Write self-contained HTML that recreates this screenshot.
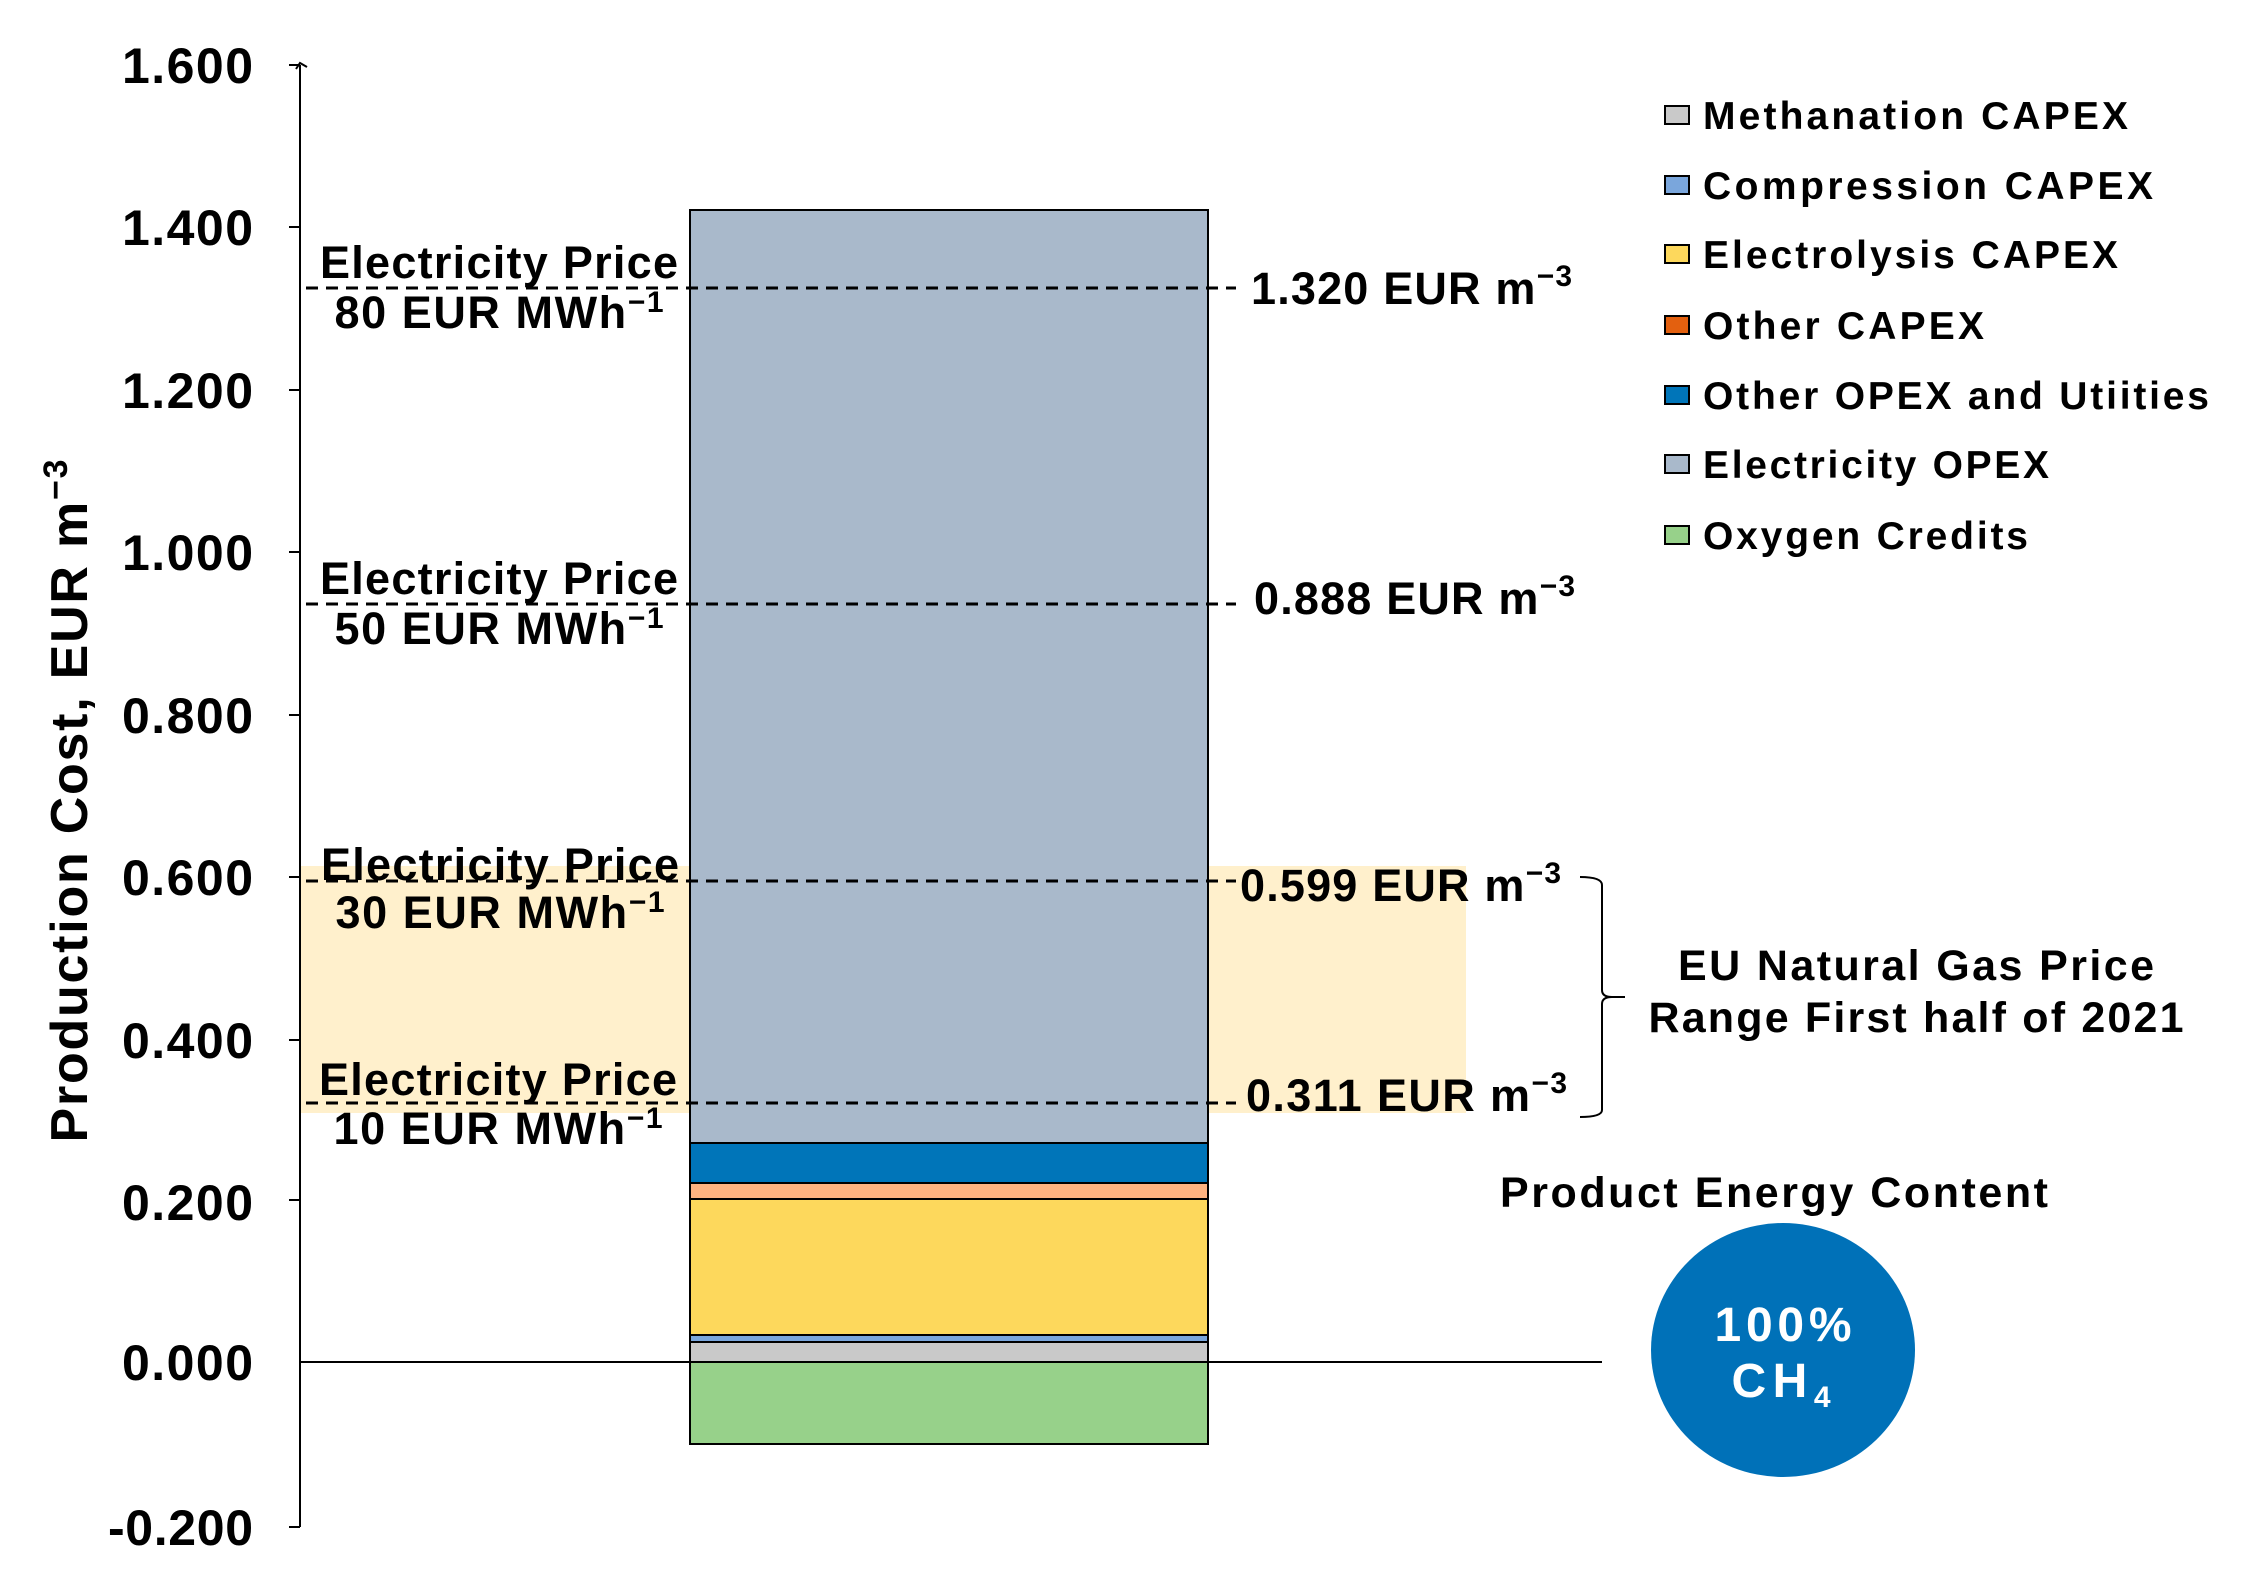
<!DOCTYPE html>
<html><head><meta charset="utf-8"><style>html,body{margin:0;padding:0;background:#fff}svg{display:block}</style></head>
<body>
<svg width="2248" height="1582" viewBox="0 0 2248 1582" xmlns="http://www.w3.org/2000/svg" font-family="Liberation Sans, Arial, sans-serif" font-weight="bold">
<rect width="2248" height="1582" fill="#fff"/>
<rect x="300" y="866" width="1166" height="247" fill="#fff0cc"/>
<g stroke="#000" stroke-width="2">
<rect x="690" y="210" width="518" height="933" fill="#a9b9cb"/>
<rect x="690" y="1143" width="518" height="40" fill="#0075b9"/>
<rect x="690" y="1183" width="518" height="16" fill="#ffb380"/>
<rect x="690" y="1199" width="518" height="136" fill="#fdd85c"/>
<rect x="690" y="1335" width="518" height="7" fill="#7aa6dc"/>
<rect x="690" y="1342" width="518" height="20" fill="#c9c9c9"/>
<rect x="690" y="1362" width="518" height="82" fill="#97d18a"/>
</g>
<g stroke="#000" stroke-width="2">
<line x1="300" y1="65" x2="300" y2="1527"/>
<line x1="300" y1="1362" x2="1602" y2="1362"/>
<line x1="289" y1="65" x2="300" y2="65"/><line x1="289" y1="227" x2="300" y2="227"/>
<line x1="289" y1="390" x2="300" y2="390"/><line x1="289" y1="552" x2="300" y2="552"/>
<line x1="289" y1="715" x2="300" y2="715"/><line x1="289" y1="877" x2="300" y2="877"/>
<line x1="289" y1="1040" x2="300" y2="1040"/><line x1="289" y1="1200" x2="300" y2="1200"/>
<line x1="289" y1="1527" x2="300" y2="1527"/>
<path d="M296 69 L300 63 L307 67" fill="none"/>
</g>
<g font-size="50" text-anchor="end" fill="#000">
<text x="253" y="83" textLength="131">1.600</text><text x="253" y="245" textLength="131">1.400</text>
<text x="253" y="408" textLength="131">1.200</text><text x="253" y="570" textLength="131">1.000</text>
<text x="253" y="733" textLength="131">0.800</text><text x="253" y="895" textLength="131">0.600</text>
<text x="253" y="1058" textLength="131">0.400</text><text x="253" y="1220" textLength="131">0.200</text>
<text x="253" y="1380" textLength="131">0.000</text><text x="253" y="1545" textLength="145">-0.200</text>
</g>
<text transform="translate(87,801) rotate(-90)" font-size="52" text-anchor="middle" textLength="683">Production Cost, EUR m<tspan dy="-20" font-size="34">−3</tspan></text>
<g stroke="#000" stroke-width="3" stroke-dasharray="12,8">
<line x1="306" y1="288" x2="1236" y2="288"/>
<line x1="306" y1="604" x2="1236" y2="604"/>
<line x1="306" y1="881" x2="1236" y2="881"/>
<line x1="306" y1="1103" x2="1236" y2="1103"/>
</g>
<g font-size="45" text-anchor="middle">
<text x="499" y="278" textLength="358">Electricity Price</text><text x="499" y="328" textLength="329">80 EUR MWh<tspan dy="-16" font-size="30">−1</tspan></text>
<text x="499" y="594" textLength="358">Electricity Price</text><text x="499" y="644" textLength="329">50 EUR MWh<tspan dy="-16" font-size="30">−1</tspan></text>
<text x="500" y="880" textLength="358">Electricity Price</text><text x="500" y="928" textLength="329">30 EUR MWh<tspan dy="-16" font-size="30">−1</tspan></text>
<text x="498" y="1095" textLength="358">Electricity Price</text><text x="498" y="1144" textLength="329">10 EUR MWh<tspan dy="-16" font-size="30">−1</tspan></text>
</g>
<g font-size="45">
<text x="1251" y="304" textLength="321">1.320 EUR m<tspan dy="-18" font-size="30">−3</tspan></text>
<text x="1254" y="614" textLength="321">0.888 EUR m<tspan dy="-18" font-size="30">−3</tspan></text>
<text x="1240" y="901" textLength="321">0.599 EUR m<tspan dy="-18" font-size="30">−3</tspan></text>
<text x="1246" y="1111" textLength="321">0.311 EUR m<tspan dy="-18" font-size="30">−3</tspan></text>
</g>
<path d="M1580 877 Q1602 877 1602 885 L1602 990 Q1602 997 1612 997 L1625 997 M1612 997 Q1602 997 1602 1004 L1602 1110 Q1602 1117 1580 1117" fill="none" stroke="#000" stroke-width="2"/>
<g font-size="43" text-anchor="middle">
<text x="1916" y="980" textLength="476">EU Natural Gas Price</text>
<text x="1916" y="1032" textLength="535">Range First half of 2021</text>
<text x="1774" y="1207" textLength="548">Product Energy Content</text>
</g>
<ellipse cx="1783" cy="1350" rx="132" ry="127" fill="#0071b8"/>
<g font-size="48" fill="#fff" text-anchor="middle">
<text x="1783" y="1341" textLength="137">100%</text>
<text x="1781" y="1397" textLength="99">CH<tspan dy="10" font-size="30">4</tspan></text>
</g>
<g stroke="#000" stroke-width="2">
<rect x="1665" y="106" width="24" height="18" fill="#c9c9c9"/>
<rect x="1665" y="176" width="24" height="18" fill="#7aa6dc"/>
<rect x="1665" y="245" width="24" height="18" fill="#fdd85c"/>
<rect x="1665" y="316" width="24" height="18" fill="#e3600f"/>
<rect x="1665" y="386" width="24" height="18" fill="#0075b9"/>
<rect x="1665" y="455" width="24" height="18" fill="#a9b9cb"/>
<rect x="1665" y="526" width="24" height="18" fill="#97d18a"/>
</g>
<g font-size="39">
<text x="1703" y="129" textLength="425">Methanation CAPEX</text>
<text x="1703" y="199" textLength="450">Compression CAPEX</text>
<text x="1703" y="268" textLength="415">Electrolysis CAPEX</text>
<text x="1703" y="339" textLength="281">Other CAPEX</text>
<text x="1703" y="409" textLength="506">Other OPEX and Utiities</text>
<text x="1703" y="478" textLength="346">Electricity OPEX</text>
<text x="1703" y="549" textLength="325">Oxygen Credits</text>
</g>
</svg>
</body></html>
